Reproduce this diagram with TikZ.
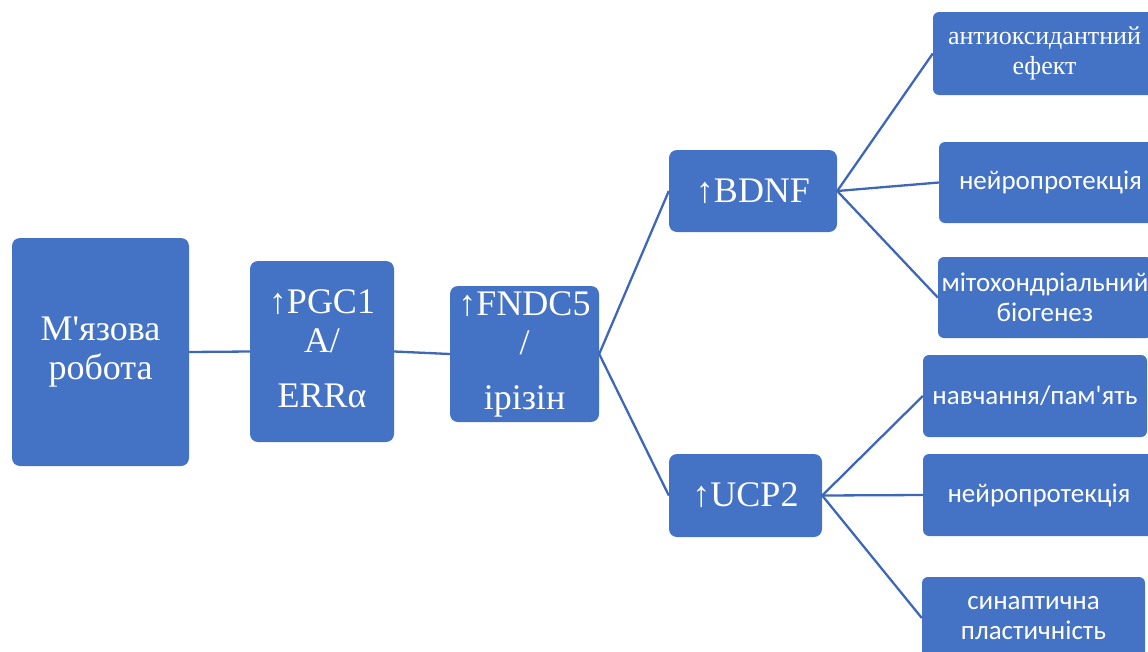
\documentclass[tikz,border=0pt]{standalone}
\usepackage{fontspec}
\setmainfont{Liberation Serif}[Ligatures=TeXOff]
\newfontfamily\calibrifont{Carlito}[Ligatures=TeXOff]
\definecolor{boxblue}{HTML}{4472C4}
\definecolor{linkblue}{HTML}{3F67B8}

\begin{document}
\begin{tikzpicture}[x=1pt,y=-1pt,
  box/.style={fill=boxblue, text=white, rounded corners=8pt, inner sep=0pt, align=center},
  leaf/.style={box, rounded corners=6pt},
  bigserif/.style={font=\fontsize{36}{39}\selectfont},
  smallserif/.style={font=\fontsize{26}{30}\selectfont},
  smallsans/.style={font=\calibrifont\fontsize{27}{30}\selectfont},
  link/.style={draw=linkblue, line width=2.3pt}]
\useasboundingbox (0,0) rectangle (1148,651);
\clip (0,0) rectangle (1148,651);

% main chain
\node[box, bigserif, minimum width=177, minimum height=228] (work) at (100.5,352)
  {М'язова\\робота};
\node[box, bigserif, minimum width=144, minimum height=181] (pgc) at (322,351.5)
  {\fontsize{36}{38}\selectfont ↑PGC1\\A/\\[16pt]ERRα\rule[-6pt]{0pt}{6pt}};
\node[box, bigserif, minimum width=149, minimum height=136] (fndc) at (524.5,354)
  {\fontsize{36}{33}\selectfont ↑FNDC5\\/\\[16pt]ірізін};
\node[box, bigserif, minimum width=168, minimum height=82] (bdnf) at (753,191) {↑BDNF};
\node[box, bigserif, minimum width=153, minimum height=83] (ucp) at (745.5,495.5) {↑UCP2};

% outcomes of BDNF
\node[leaf, smallserif, minimum width=223, minimum height=83] (antiox) at (1044.5,53.5)
  {антиоксидантний\\ефект};
\node[leaf, smallsans, minimum width=223, minimum height=81] (neuroA) at (1050.5,182.5)
  {нейропротекція};
\node[leaf, smallsans, minimum width=214, minimum height=81] (mito) at (1045,297.5)
  {мітохондріальний\\біогенез};

% outcomes of UCP2
\node[leaf, smallsans, minimum width=224, minimum height=82] (learn) at (1035,396)
  {навчання/пам'ять};
\node[leaf, smallsans, minimum width=232, minimum height=82] (neuroB) at (1039,495)
  {нейропротекція};
\node[leaf, smallsans, minimum width=223, minimum height=82] (syn) at (1033.5,618)
  {\calibrifont\fontsize{27}{28}\selectfont синаптична\\пластичність};

% connectors
\draw[link] (work.east) -- (pgc.west);
\draw[link] (pgc.east) -- (fndc.west);
\draw[link] (bdnf.west) -- (fndc.east) -- (ucp.west);
\draw[link] (antiox.west) -- (bdnf.east) -- (mito.west);
\draw[link] (bdnf.east) -- (neuroA.west);
\draw[link] (learn.west) -- (ucp.east) -- (syn.west);
\draw[link] (ucp.east) -- (neuroB.west);
\end{tikzpicture}
\end{document}
